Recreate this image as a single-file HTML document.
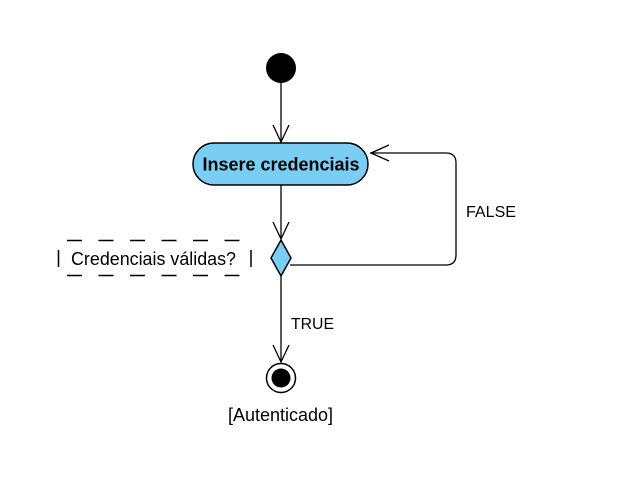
<!DOCTYPE html>
<html><head><style>body{margin:0;background:#fff}svg{display:block}</style></head><body>
<svg width="624" height="487" viewBox="0 0 624 487" font-family="Liberation Sans, Arial, sans-serif">
<circle cx="281" cy="68" r="15" fill="#000"/>
<line x1="281" y1="83" x2="281" y2="142" stroke="#000" stroke-width="1.3"/>
<polyline points="273,125 281,142 289,125" fill="none" stroke="#000" stroke-width="1.3"/>
<rect x="193" y="143" width="175" height="42" rx="21" fill="#7acef4" stroke="#000" stroke-width="1.5"/>
<text x="281" y="170.5" text-anchor="middle" font-size="18" font-weight="bold" textLength="157" lengthAdjust="spacingAndGlyphs">Insere credenciais</text>
<line x1="281" y1="185" x2="281" y2="239" stroke="#000" stroke-width="1.3"/>
<polyline points="273,222 281,239 289,222" fill="none" stroke="#000" stroke-width="1.3"/>
<polygon points="281,240 291,258 281,276 271,258" fill="#7acef4" stroke="#000" stroke-width="1.5"/>
<path d="M290,265 H446 Q456,265 456,255 V163 Q456,153 446,153 H370" fill="none" stroke="#000" stroke-width="1.3"/>
<polyline points="389,145 371,153 389,161" fill="none" stroke="#000" stroke-width="1.3"/>
<text x="466" y="217" font-size="16" textLength="50" lengthAdjust="spacingAndGlyphs">FALSE</text>
<line x1="67" y1="240.5" x2="245" y2="240.5" stroke="#000" stroke-width="1.5" stroke-dasharray="15,16.5"/>
<line x1="67" y1="275.5" x2="245" y2="275.5" stroke="#000" stroke-width="1.5" stroke-dasharray="15,16.5"/>
<line x1="58.5" y1="250" x2="58.5" y2="267" stroke="#000" stroke-width="1.5"/>
<line x1="251" y1="250" x2="251" y2="267" stroke="#000" stroke-width="1.5"/>
<text x="71" y="265" font-size="18" textLength="165" lengthAdjust="spacingAndGlyphs">Credenciais válidas?</text>
<line x1="281" y1="276" x2="281" y2="362" stroke="#000" stroke-width="1.3"/>
<polyline points="273,345 281,362 289,345" fill="none" stroke="#000" stroke-width="1.3"/>
<text x="291" y="329" font-size="16" textLength="43" lengthAdjust="spacingAndGlyphs">TRUE</text>
<circle cx="281" cy="378" r="14.5" fill="#fff" stroke="#000" stroke-width="1.5"/>
<circle cx="281" cy="378" r="9.5" fill="#000"/>
<text x="228" y="421" font-size="18" textLength="105" lengthAdjust="spacingAndGlyphs">[Autenticado]</text>
</svg>
</body></html>
